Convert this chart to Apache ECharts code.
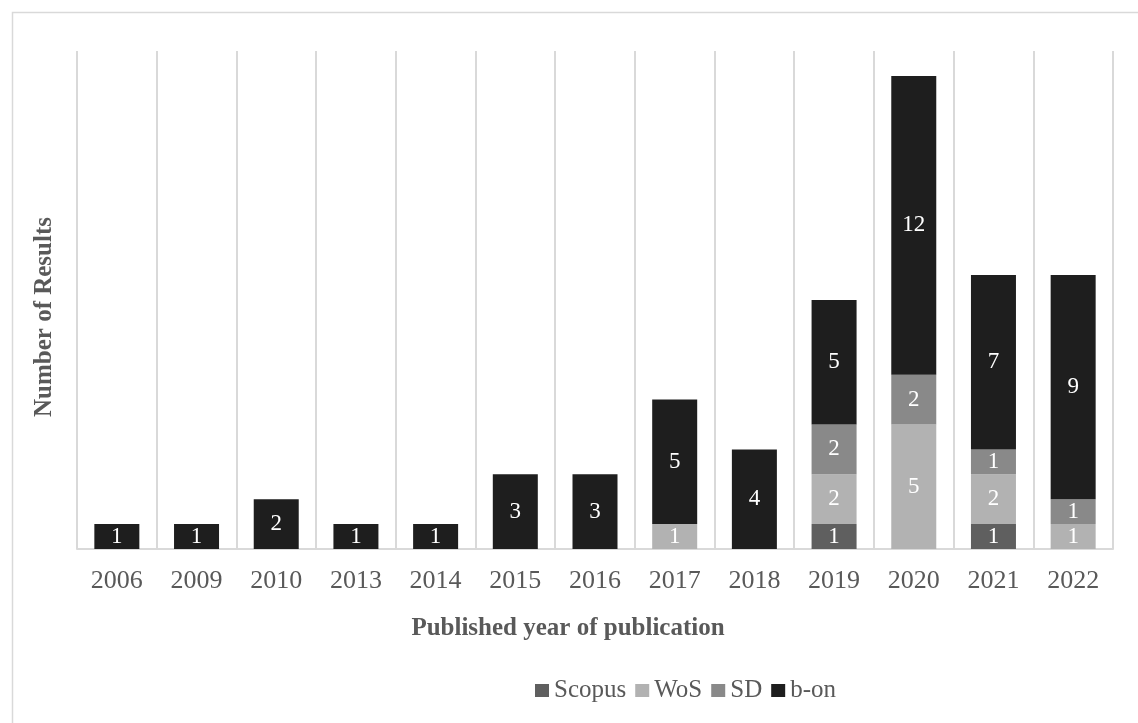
<!DOCTYPE html>
<html>
<head>
<meta charset="utf-8">
<style>
  html, body { margin: 0; padding: 0; background: #fff; }
  #chart { width: 1138px; height: 723px; }
</style>
<script src="https://cdn.jsdelivr.net/npm/echarts@6/dist/echarts.min.js"></script>
</head>
<body>
<div id="chart"></div>
<script>
// Publication years and result counts per source database
const years  = ['2006', '2009', '2010', '2013', '2014', '2015', '2016', '2017', '2018', '2019', '2020', '2021', '2022'];
const scopus = [0, 0, 0, 0, 0, 0, 0, 0, 0, 1, 0, 1, 0];
const wos    = [0, 0, 0, 0, 0, 0, 0, 1, 0, 2, 5, 2, 1];
const sd     = [0, 0, 0, 0, 0, 0, 0, 0, 0, 2, 2, 1, 1];
const bon    = [1, 1, 2, 1, 1, 3, 3, 5, 4, 5, 12, 7, 9];

const FONT = 'Liberation Serif';
const TEXT = '#595959';
const GRID_LINE = '#d9d9d9';

const chart = echarts.init(document.getElementById('chart'), null, { renderer: 'canvas' });

function stackSeries(name, data, color) {
  return {
    name: name,
    type: 'bar',
    stack: 'total',
    data: data.map(v => (v === 0 ? null : v)),
    barWidth: 45,
    itemStyle: { color: color },
    label: {
      show: true,
      position: 'inside',
      color: '#ffffff',
      fontFamily: FONT,
      fontSize: 23,
      formatter: p => (p.value ? String(p.value) : '')
    },
    emphasis: { disabled: true }
  };
}

chart.setOption({
  animation: false,
  backgroundColor: '#ffffff',
  textStyle: { fontFamily: FONT },
  grid: { left: 77, right: 25, top: 51, bottom: 174 },
  legend: {
    left: 530,
    top: 673,
    itemWidth: 14,
    itemHeight: 13,
    itemGap: 9,
    icon: 'rect',
    textStyle: { fontFamily: FONT, fontSize: 25, color: TEXT },
    data: ['Scopus', 'WoS', 'SD', 'b-on']
  },
  xAxis: {
    type: 'category',
    data: years,
    axisLine: { show: true, lineStyle: { color: GRID_LINE, width: 2 } },
    axisTick: { show: false },
    axisLabel: {
      fontFamily: FONT,
      fontSize: 26,
      color: TEXT,
      margin: 19
    },
    splitLine: { show: true, lineStyle: { color: GRID_LINE, width: 2 } }
  },
  yAxis: {
    type: 'value',
    min: 0,
    max: 20,
    interval: 5,
    axisLine: { show: false },
    axisTick: { show: false },
    axisLabel: { show: false },
    splitLine: { show: false }
  },
  graphic: [
    {
      type: 'rect',
      left: 10, top: 10,
      shape: { width: 1300, height: 900 },
      style: { fill: 'none', stroke: GRID_LINE, lineWidth: 1.5 },
      silent: true
    },
    {
      type: 'text',
      x: 45, y: 317,
      rotation: Math.PI / 2,
      style: {
        text: 'Number of Results',
        fontFamily: FONT, fontSize: 25, fontWeight: 'bold',
        fill: TEXT, align: 'center', verticalAlign: 'middle'
      }
    },
    {
      type: 'text',
      x: 568, y: 629,
      style: {
        text: 'Published year of publication',
        fontFamily: FONT, fontSize: 25, fontWeight: 'bold',
        fill: TEXT, align: 'center', verticalAlign: 'middle'
      }
    }
  ],
  series: [
    stackSeries('Scopus', scopus, '#5f5f5f'),
    stackSeries('WoS', wos, '#b2b2b2'),
    stackSeries('SD', sd, '#898989'),
    stackSeries('b-on', bon, '#1e1e1e')
  ]
});
</script>
</body>
</html>
